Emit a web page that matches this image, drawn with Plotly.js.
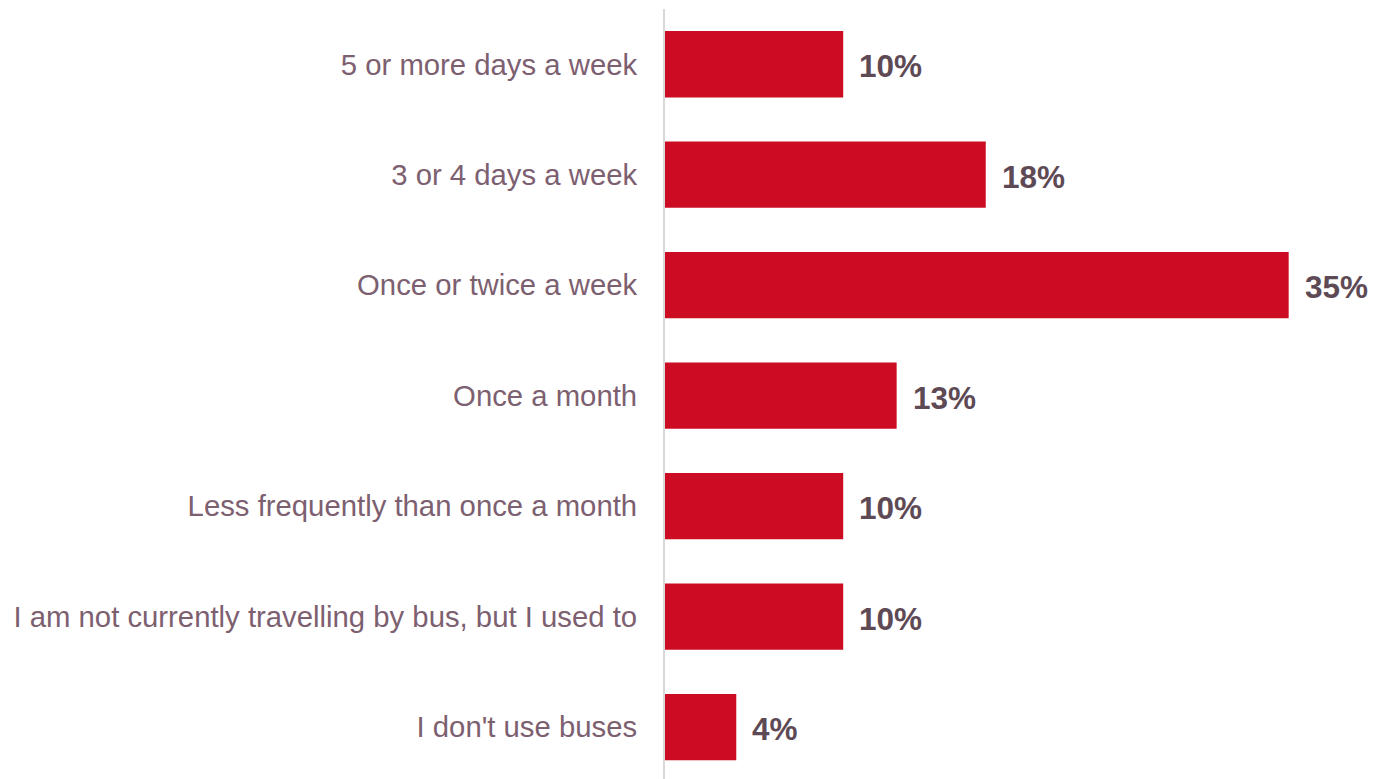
<!DOCTYPE html>
<html>
<head>
<meta charset="utf-8">
<script src="https://cdn.plot.ly/plotly-3.0.1.min.js"></script>
<style>html,body{margin:0;padding:0;background:#fff;}#chart{width:1376px;height:779px;}</style>
</head>
<body>
<div id="chart"></div>
<script>
const categories = [
  "5 or more days a week",
  "3 or 4 days a week",
  "Once or twice a week",
  "Once a month",
  "Less frequently than once a month",
  "I am not currently travelling by bus, but I used to",
  "I don't use buses"
];
const values = [10, 18, 35, 13, 10, 10, 4];
const valueLabels = ["10%", "18%", "35%", "13%", "10%", "10%", "4%"];

const trace = {
  type: 'bar',
  orientation: 'h',
  x: values,
  y: categories,
  width: 0.6,
  marker: {color: '#CC0C22'},
  hoverinfo: 'none'
};

const annotations = categories.map((c, i) => ({
  x: values[i], y: c, xref: 'x', yref: 'y',
  text: '<b>' + valueLabels[i] + '</b>', showarrow: false,
  xanchor: 'left', yanchor: 'middle', xshift: 14, yshift: -2,
  font: {family: 'Liberation Sans, Arial, sans-serif', size: 31.5, color: '#5E4A55'}
}));

const layout = {
  width: 1376, height: 779,
  margin: {l: 665, r: 0, t: 9, b: 0},
  paper_bgcolor: '#ffffff', plot_bgcolor: '#ffffff',
  showlegend: false,
  xaxis: {range: [0, 39.9], showgrid: false, zeroline: false, showticklabels: false, showline: false, ticks: ''},
  yaxis: {
    type: 'category',
    range: [6.47, -0.5],
    showgrid: false, zeroline: false,
    showline: true, linecolor: '#D9D9D9', linewidth: 2,
    ticks: '', ticklabelstandoff: 20,
    tickfont: {family: 'Liberation Sans, Arial, sans-serif', size: 29.3, color: '#7D6070'}
  },
  annotations: annotations
};

Plotly.newPlot('chart', [trace], layout, {displayModeBar: false, staticPlot: true});
</script>
</body>
</html>
